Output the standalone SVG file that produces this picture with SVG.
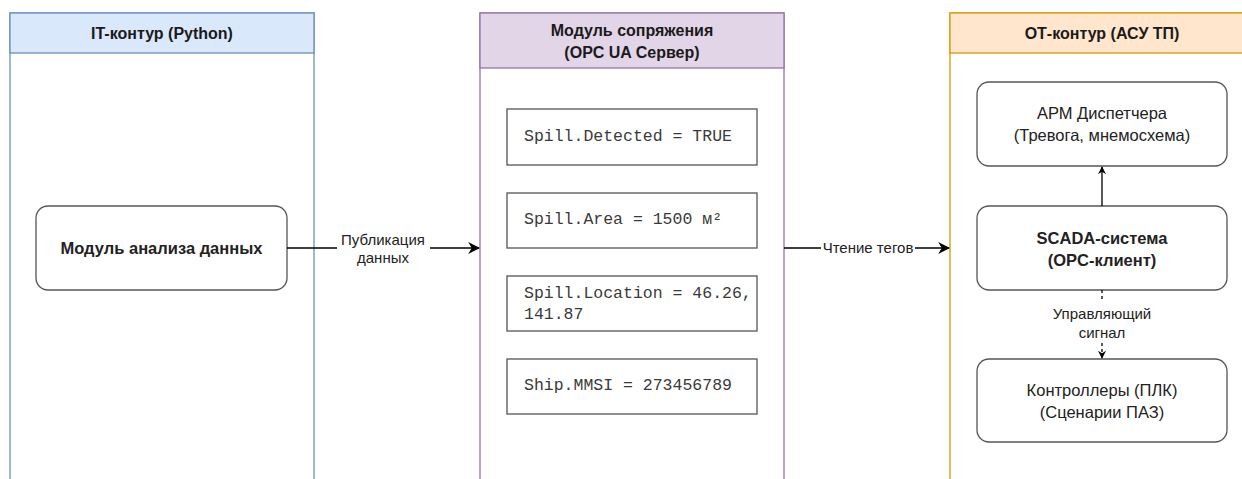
<svg xmlns="http://www.w3.org/2000/svg" width="1242" height="479" viewBox="0 0 1242 479">
  <defs>
    <marker id="arrow" viewBox="0 0 10 10" refX="9" refY="5" markerWidth="8" markerHeight="8" orient="auto" markerUnits="userSpaceOnUse">
      <path d="M0,0 L10,5 L0,10 L3,5 Z" fill="#000"/>
    </marker>
    <marker id="arrowBig" viewBox="0 0 10 10" refX="9" refY="5" markerWidth="12" markerHeight="12" orient="auto" markerUnits="userSpaceOnUse">
      <path d="M0,0 L10,5 L0,10 L3,5 Z" fill="#000"/>
    </marker>
  </defs>
  <style>
    .hdr { font-family: "Liberation Sans", Arial, sans-serif; font-size: 16px; font-weight: bold; fill: #1a1a1a; text-anchor: middle; }
    .node { fill: #ffffff; stroke: #555555; stroke-width: 1.3; }
    .tag { fill: #ffffff; stroke: #555555; stroke-width: 1.3; }
    .ntext { font-family: "Liberation Sans", Arial, sans-serif; font-size: 16.5px; fill: #222222; text-anchor: middle; }
    .bold { font-weight: bold; }
    .mono { font-family: "Liberation Mono", "Courier New", monospace; font-size: 16.5px; fill: #3a3a3a; }
    .edge { stroke: #000; stroke-width: 1.3; fill: none; }
    .elabel { font-family: "Liberation Sans", Arial, sans-serif; font-size: 15px; fill: #222222; text-anchor: middle; }
  </style>

  <rect width="1242" height="479" fill="#ffffff"/>

  <!-- IT lane -->
  <g id="lane-it">
    <rect x="10" y="13" width="304" height="480" fill="#ffffff" stroke="#6c8ebf" stroke-width="1.3"/>
    <rect x="10" y="13" width="304" height="40" fill="#dae8fc" stroke="#6c8ebf" stroke-width="1.3"/>
    <text class="hdr" x="162" y="39">IT-контур (Python)</text>
  </g>

  <!-- OPC UA lane -->
  <g id="lane-opc">
    <rect x="480" y="13" width="304" height="480" fill="#ffffff" stroke="#9673a6" stroke-width="1.3"/>
    <rect x="480" y="13" width="304" height="55" fill="#e1d5e7" stroke="#9673a6" stroke-width="1.3"/>
    <text class="hdr" x="632" y="36">Модуль сопряжения</text>
    <text class="hdr" x="632" y="58">(OPC UA Сервер)</text>
  </g>

  <!-- OT lane -->
  <g id="lane-ot">
    <rect x="950" y="13" width="310" height="480" fill="#ffffff" stroke="#d79b00" stroke-width="1.3"/>
    <rect x="950" y="13" width="310" height="40" fill="#ffe6cc" stroke="#d79b00" stroke-width="1.3"/>
    <text class="hdr" x="1102" y="39">ОТ-контур (АСУ ТП)</text>
  </g>

  <!-- Nodes -->
  <g id="node-analysis">
    <rect class="node" x="36" y="206" width="251" height="84" rx="12"/>
    <text class="ntext bold" x="161.5" y="254">Модуль анализа данных</text>
  </g>

  <g id="tag-detected">
    <rect class="tag" x="507" y="109" width="250" height="56"/>
    <text class="mono" x="524" y="141">Spill.Detected = TRUE</text>
  </g>
  <g id="tag-area">
    <rect class="tag" x="507" y="193" width="250" height="55"/>
    <text class="mono" x="524" y="224">Spill.Area = 1500 м²</text>
  </g>
  <g id="tag-location">
    <rect class="tag" x="507" y="276" width="250" height="55"/>
    <text class="mono" x="524" y="298">Spill.Location = 46.26,</text>
    <text class="mono" x="524" y="319">141.87</text>
  </g>
  <g id="tag-mmsi">
    <rect class="tag" x="507" y="359" width="250" height="55"/>
    <text class="mono" x="524" y="390">Ship.MMSI = 273456789</text>
  </g>

  <g id="node-arm">
    <rect class="node" x="977" y="82" width="250" height="84" rx="12"/>
    <text class="ntext" x="1102" y="119">АРМ Диспетчера</text>
    <text class="ntext" x="1102" y="141">(Тревога, мнемосхема)</text>
  </g>
  <g id="node-scada">
    <rect class="node" x="977" y="206" width="250" height="84" rx="12"/>
    <text class="ntext bold" x="1102" y="244">SCADA-система</text>
    <text class="ntext bold" x="1102" y="266">(OPC-клиент)</text>
  </g>
  <g id="node-plc">
    <rect class="node" x="977" y="359" width="250" height="83" rx="12"/>
    <text class="ntext" x="1102" y="396">Контроллеры (ПЛК)</text>
    <text class="ntext" x="1102" y="418">(Сценарии ПАЗ)</text>
  </g>

  <!-- Connectors -->
  <g id="connectors">
    <path class="edge" d="M287,248 H340 M428,248 H479" marker-end="url(#arrowBig)"/>
    <path class="edge" d="M784,248 H821 M915,248 H949" marker-end="url(#arrowBig)"/>
    <path class="edge" d="M1102,206 V167" marker-end="url(#arrow)"/>
    <path class="edge" d="M1102,290 V302" stroke-dasharray="3,3"/>
    <path class="edge" d="M1102,343 V358" stroke-dasharray="3,3" marker-end="url(#arrow)"/>
    <rect x="337" y="230" width="93" height="36" fill="#ffffff"/>
    <text class="elabel" x="383" y="245">Публикация</text>
    <text class="elabel" x="383" y="263">данных</text>
    <rect x="821" y="240" width="94" height="16" fill="#ffffff"/>
    <text class="elabel" x="868" y="253">Чтение тегов</text>
    <rect x="1045" y="304" width="114" height="39" fill="#ffffff"/>
    <text class="elabel" x="1102" y="319">Управляющий</text>
    <text class="elabel" x="1102" y="338">сигнал</text>
  </g>
</svg>
